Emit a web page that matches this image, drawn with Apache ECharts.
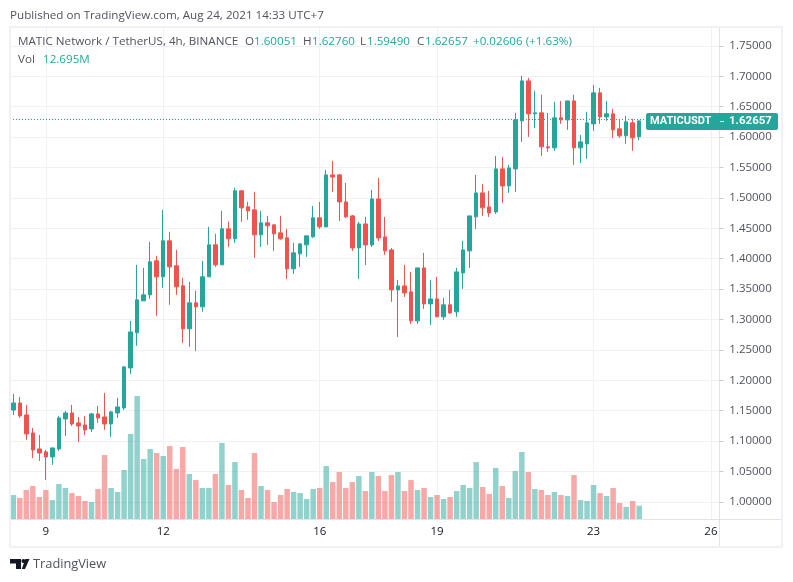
<!DOCTYPE html>
<html>
<head>
<meta charset="utf-8">
<title>MATICUSDT</title>
<script src="https://cdn.jsdelivr.net/npm/echarts@6/dist/echarts.min.js"></script>
<style>
html, body { margin: 0; padding: 0; background: #fff; }
#chart { width: 793px; height: 582px; }
</style>
</head>
<body>
<div id="chart"></div>
<script>
var opens = [1.1513,1.1628,1.1431,1.1135,1.0872,1.0823,1.0741,1.0872,1.1365,1.1464,1.1300,1.1267,1.1201,1.1448,1.1398,1.1283,1.1464,1.1547,1.2204,1.2781,1.3307,1.3406,1.3965,1.3702,1.4294,1.3883,1.3554,1.2847,1.3274,1.3209,1.3702,1.4228,1.3899,1.4491,1.4327,1.5116,1.4853,1.4803,1.4392,1.4590,1.4557,1.4425,1.4343,1.3833,1.4080,1.4228,1.4360,1.4672,1.4523,1.5378,1.5378,1.4934,1.4704,1.4178,1.4572,1.4227,1.4983,1.4359,1.4145,1.3487,1.3553,1.3455,1.2978,1.3849,1.3257,1.3339,1.3044,1.3241,1.3126,1.3767,1.4129,1.4688,1.5082,1.4852,1.4770,1.5477,1.5197,1.5477,1.6267,1.6924,1.6382,1.6398,1.5839,1.5823,1.6316,1.6283,1.6595,1.5823,1.5888,1.6217,1.6727,1.6332,1.6382,1.6135,1.6020,1.6234,1.60051];
var closes = [1.1628,1.1415,1.1119,1.0856,1.0806,1.0741,1.0889,1.1382,1.1464,1.1283,1.1250,1.1185,1.1448,1.1382,1.1283,1.1481,1.1563,1.2221,1.2796,1.3324,1.3406,1.3948,1.3702,1.4294,1.3866,1.3538,1.2847,1.3274,1.3209,1.3702,1.4228,1.3899,1.4491,1.4327,1.5116,1.4836,1.4787,1.4392,1.4590,1.4540,1.4409,1.4327,1.3833,1.4096,1.4244,1.4376,1.4672,1.4524,1.5378,1.5345,1.4934,1.4688,1.4178,1.4572,1.4227,1.4983,1.4342,1.4129,1.3487,1.3553,1.3438,1.2978,1.3849,1.3257,1.3339,1.3044,1.3241,1.3109,1.3783,1.4145,1.4704,1.5082,1.4836,1.4753,1.5477,1.5197,1.5493,1.6283,1.6924,1.6382,1.6398,1.5839,1.5823,1.6316,1.6283,1.6595,1.5823,1.5921,1.6234,1.6727,1.6332,1.6382,1.6119,1.6020,1.6250,1.5987,1.62657];
var lows = [1.1431,1.1382,1.1020,1.0724,1.0675,1.0363,1.0609,1.0839,1.1086,1.1250,1.0987,1.1102,1.1152,1.1300,1.1185,1.1069,1.1382,1.1514,1.2106,1.2568,1.3307,1.3340,1.3061,1.3521,1.3242,1.3406,1.2617,1.2551,1.2485,1.3127,1.3702,1.3866,1.3899,1.4195,1.4261,1.4606,1.4639,1.4014,1.4195,1.4228,1.4129,1.4310,1.3669,1.3751,1.3866,1.4031,1.4343,1.4491,1.4523,1.5098,1.4622,1.4671,1.4129,1.3668,1.3898,1.4194,1.4293,1.4063,1.3290,1.2715,1.3372,1.2928,1.2928,1.3175,1.2912,1.3044,1.2994,1.3093,1.3044,1.3504,1.3849,1.4490,1.4704,1.4688,1.4737,1.4918,1.5082,1.5099,1.5921,1.6004,1.6151,1.5691,1.5757,1.5773,1.6217,1.6119,1.5543,1.5576,1.5642,1.6102,1.6217,1.6267,1.5987,1.5987,1.5888,1.5773,1.5949];
var highs = [1.1776,1.1727,1.1596,1.1218,1.1102,1.0856,1.0889,1.1415,1.1497,1.1596,1.1398,1.1415,1.1464,1.1579,1.1793,1.1497,1.1711,1.2237,1.2977,1.3899,1.3850,1.4277,1.4047,1.4803,1.4442,1.4146,1.3685,1.3620,1.3472,1.3965,1.4524,1.4409,1.4787,1.4606,1.5165,1.5132,1.4935,1.5099,1.4787,1.4705,1.4557,1.4705,1.4491,1.4261,1.4244,1.4376,1.4869,1.4935,1.5460,1.5608,1.5394,1.5246,1.4720,1.4605,1.4688,1.5131,1.5329,1.4688,1.4178,1.3652,1.3898,1.3783,1.3849,1.4096,1.3652,1.3701,1.3356,1.3487,1.3849,1.4293,1.4704,1.5378,1.5230,1.5115,1.5690,1.5674,1.5542,1.6398,1.7006,1.6973,1.6760,1.6694,1.6398,1.6579,1.6595,1.6595,1.6694,1.6036,1.6415,1.6858,1.6809,1.6595,1.6464,1.6299,1.6349,1.6299,1.6276];
var volumes = [22.9,20.1,27.7,31.5,21.0,27.7,18.1,33.4,29.6,24.8,22.0,17.2,16.2,28.7,61.1,29.6,25.8,46.8,81.2,117.5,57.3,66.9,63.0,60.2,69.7,47.8,68.8,43.0,37.2,29.6,29.6,43.0,72.6,32.5,54.4,27.7,20.1,63.0,31.5,27.7,16.2,22.9,28.7,25.8,24.8,19.1,28.7,29.6,50.6,35.3,44.9,29.6,35.3,41.1,26.7,44.9,41.1,26.7,42.0,44.9,26.7,37.2,27.7,29.6,21.0,22.9,19.1,21.0,26.7,32.5,29.6,54.4,30.6,23.9,48.7,31.5,20.1,45.8,64.0,44.9,28.7,27.7,22.9,25.8,22.9,22.0,42.0,18.1,17.2,32.5,24.8,22.0,29.6,15.3,11.5,17.2,12.695];
var tickIndex = [5, 23, 47, 65, 89, 107];
var tickLabels = ['9', '12', '16', '19', '23', '26'];
var priceTicks = [1.00,1.05,1.10,1.15,1.20,1.25,1.30,1.35,1.40,1.45,1.50,1.55,1.60,1.65,1.70,1.75];
var slotCount = 109;

var UP = '#26a69a', DOWN = '#ef5350', TEXT = '#50535e', GRIDLINE = '#f1f1f4', FONT = '"Open Sans", "Noto Sans", sans-serif';

var categories = [];
for (var i = 0; i < slotCount; i++) {
    var t = tickIndex.indexOf(i);
    categories.push(t >= 0 ? tickLabels[t] : '');
}
function isDay(index) { return tickIndex.indexOf(index) >= 0; }

var candles = opens.map(function(o, i) { return [o, closes[i], lows[i], highs[i]]; });
var volumeBars = volumes.map(function(v, i) {
    return {
        value: v,
        itemStyle: { color: closes[i] >= opens[i] ? 'rgba(38,166,154,.5)' : 'rgba(239,83,80,.5)' }
    };
});
var lastClose = closes[closes.length - 1];

var myChart = echarts.init(document.getElementById('chart'), null, { renderer: 'canvas' });
var option = {
    animation: false,
    backgroundColor: '#fff',
    grid: { left: 10, top: 27, width: 710.7, height: 492, containLabel: false },
    xAxis: [{
        type: 'category',
        data: categories,
        axisLine: { lineStyle: { color: '#e0e3eb', width: 1 } },
        axisTick: { alignWithLabel: true, interval: isDay, length: 3, lineStyle: { color: '#c5c8d0' } },
        axisLabel: { interval: isDay, color: '#131722', fontFamily: FONT, fontSize: 11.5, margin: 7 },
        splitLine: { show: true, alignWithLabel: true, interval: isDay, lineStyle: { color: GRIDLINE, width: 1 } }
    }],
    yAxis: [{
        type: 'value',
        position: 'right',
        offset: -1.4,
        min: 0.972,
        max: 1.781,
        axisLine: { show: true, lineStyle: { color: '#e0e3eb' } },
        axisTick: { show: true, customValues: priceTicks, length: 4, lineStyle: { color: '#c5c8d0' } },
        axisLabel: {
            customValues: priceTicks, color: TEXT, fontFamily: FONT, fontSize: 11.5, margin: 10,
            formatter: function(v) { return v.toFixed(5); }
        },
        splitLine: { show: true, lineStyle: { color: GRIDLINE, width: 1 } }
    }, {
        type: 'value',
        min: 0,
        max: 470,
        show: false,
        splitLine: { show: false }
    }],
    series: [{
        name: 'Vol',
        type: 'bar',
        yAxisIndex: 1,
        barWidth: 5.5,
        data: volumeBars,
        z: 2
    }, {
        name: 'MATICUSDT',
        type: 'candlestick',
        barWidth: 4,
        data: candles,
        z: 3,
        itemStyle: { color: UP, color0: DOWN, borderColor: UP, borderColor0: DOWN, borderWidth: 1 },
        markLine: {
            silent: true,
            symbol: 'none',
            label: { show: false },
            lineStyle: { color: UP, type: [1, 2], width: 1 },
            data: [{ yAxis: lastClose }]
        }
    }]
};
myChart.setOption(option);

function txt(x, y, text, color, size, weight, align, family) {
    return {
        type: 'text', x: x, y: y, z: 20,
        style: {
            text: text, fill: color || TEXT, fontFamily: family || FONT, fontSize: size || 11.65,
            fontWeight: weight || 'normal', textAlign: align || 'left', textVerticalAlign: 'middle'
        }
    };
}
function lineEl(x1, y1, x2, y2, color) {
    return { type: 'line', z: 10, shape: { x1: x1, y1: y1, x2: x2, y2: y2 }, style: { stroke: color, lineWidth: 1 } };
}

// price tag follows the last close
var tagY = Math.round(myChart.convertToPixel({ yAxisIndex: 0 }, lastClose)) + 0.5;

myChart.setOption({
    graphic: [
        { type: 'rect', z: 9, shape: { x: 10, y: 27, width: 772, height: 520 }, style: { fill: 'none', stroke: '#f0f0f5', lineWidth: 2 } },
        lineEl(720, 519.5, 781, 519.5, '#e0e3eb'),
        lineEl(719.5, 519, 719.5, 546, '#e0e3eb'),
        txt(10, 15.5, 'Published on TradingView.com, Aug 24, 2021 14:33 UTC+7', TEXT),
        txt(18, 41.5, 'MATIC Network / TetherUS, 4h, BINANCE', TEXT),
        txt(245, 41.5, 'O', TEXT), txt(254, 41.5, '1.60051', UP),
        txt(303, 41.5, 'H', TEXT), txt(312, 41.5, '1.62760', UP),
        txt(360, 41.5, 'L', TEXT), txt(367, 41.5, '1.59490', UP),
        txt(417, 41.5, 'C', TEXT), txt(425, 41.5, '1.62657', UP),
        txt(473, 41.5, '+0.02606 (+1.63%)', UP),
        txt(18, 59.5, 'Vol', TEXT), txt(43, 59.5, '12.695M', UP),
        { type: 'rect', z: 15, shape: { x: 646, y: tagY - 8.5, width: 132, height: 17, r: 2 }, style: { fill: UP } },
        lineEl(718.5, tagY - 8.5, 718.5, tagY + 8.5, '#ffffff'),
        { type: 'line', z: 16, shape: { x1: 720, y1: tagY, x2: 724, y2: tagY }, style: { stroke: '#ffffff', lineWidth: 1 } },
        txt(650, tagY, 'MATICUSDT', '#ffffff', 11, 'bold', 'left', 'Roboto'),
        txt(729, tagY, '1.62657', '#ffffff', 11.5, 'bold', 'left', 'Roboto'),
        { type: 'polygon', z: 20, shape: { points: [[10, 559], [21, 559], [21, 569], [16, 569], [16, 563.5], [10, 563.5]] }, style: { fill: '#131722' } },
        { type: 'circle', z: 20, shape: { cx: 23.4, cy: 561, r: 2 }, style: { fill: '#131722' } },
        { type: 'polygon', z: 20, shape: { points: [[25.3, 559], [29.5, 559], [25, 569], [21.8, 569]] }, style: { fill: '#131722' } },
        txt(33, 564.5, 'TradingView', TEXT, 12.8)
    ]
});
</script>
</body>
</html>
